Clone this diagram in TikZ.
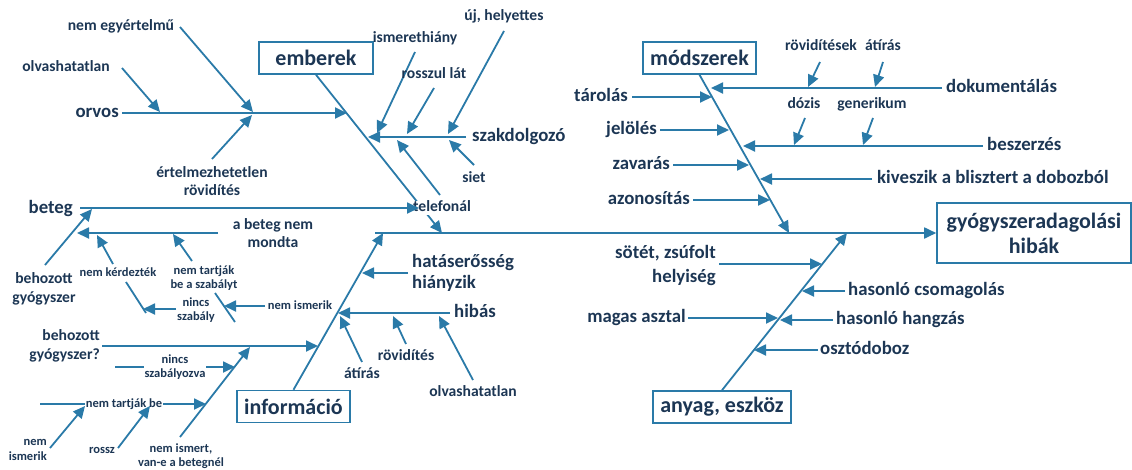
\documentclass[tikz,border=0pt]{standalone}
\usepackage{fontspec}
\setmainfont{Carlito}
\usetikzlibrary{arrows.meta}
\definecolor{bone}{RGB}{42,122,168}
\definecolor{ink}{RGB}{28,54,84}
\tikzset{
  ln/.style={draw=bone, line width=1.8pt},
  arr/.style={ln, -{Triangle[length=12pt,width=11pt]}},
  txt/.style={text=ink, inner sep=0pt},
  hdr/.style={txt, draw=bone, line width=1.6pt, font=\fontsize{22}{25}\selectfont\bfseries, minimum height=32pt},
  cat/.style={txt, font=\fontsize{18.8}{22}\selectfont\bfseries, text height=13pt, text depth=3.8pt},
  lbl/.style={txt, font=\fontsize{15.6}{18.5}\selectfont\bfseries, text height=10.8pt, text depth=3.1pt},
  sml/.style={txt, font=\fontsize{12.5}{14.5}\selectfont\bfseries, text height=8.6pt, text depth=2.5pt},
  multi/.style={text height={}, text depth={}},
  blank/.style={fill=white, inner xsep=1pt},
}
\begin{document}
\begin{tikzpicture}[x=1pt,y=-1pt]
\useasboundingbox (0,0) rectangle (1132,469);

% ---------- effect and spine ----------
\node[hdr, minimum width=194pt, minimum height=60pt, align=center] (eff) at (1034,233) {gyógyszeradagolási\\hibák};
\coordinate (sp0) at (375,233);
\draw[arr] (sp0) -- (eff.west);

% ---------- category boxes ----------
\node[hdr, minimum width=114pt] (emb) at (316,58) {emberek};
\node[hdr, minimum width=113pt] (mod) at (699.5,58) {módszerek};
\node[hdr, minimum width=113pt] (inf) at (293.5,406.5) {információ};
\node[hdr, minimum width=138pt] (any) at (722,407) {anyag, eszköz};

% ---------- main bones ----------
\coordinate (embT) at (442,233);
\coordinate (modT) at (789,233);
\coordinate (infT) at (383,233);
\coordinate (anyT) at (847,233);
\draw[arr] (emb.south) -- (embT);
\draw[arr] (mod.south) -- (modT);
\draw[arr] (inf.north) -- (infT);
\draw[arr] (any.north) -- (anyT);

% ---------- emberek: orvos ----------
\node[cat, anchor=east] (orvos) at (119,113) {orvos};
\coordinate (orvosT) at (347,113);
\draw[arr] ([xshift=3pt]orvos.east) -- (orvosT);
\node[lbl] (olv) at (66,68) {olvashatatlan};
\coordinate (olvA) at (122,68); \coordinate (olvB) at (160,112);
\draw[arr] (olvA) -- (olvB);
\node[lbl] (egy) at (121,27) {nem egyértelmű};
\coordinate (egyA) at (180,27); \coordinate (egyB) at (253,112);
\draw[arr] (egyA) -- (egyB);
\node[lbl, multi, align=center] (ert) at (212,181) {értelmezhetetlen\\rövidítés};
\coordinate (ertA) at (212,159); \coordinate (ertB) at (252,115);
\draw[arr] (ertA) -- (ertB);

% ---------- emberek: szakdolgozó ----------
\node[cat, anchor=west] (szak) at (472,137) {szakdolgozó};
\coordinate (szakA) at (466,137); \coordinate (szakT) at (368,137);
\draw[arr] (szakA) -- (szakT);
\node[lbl] (ism) at (415,39) {ismerethiány};
\coordinate (ismA) at (415,52); \coordinate (ismB) at (377,133);
\draw[arr] (ismA) -- (ismB);
\node[lbl] (rossz) at (434,75) {rosszul lát};
\coordinate (rosszA) at (434,88); \coordinate (rosszB) at (407,134);
\draw[arr] (rosszA) -- (rosszB);
\node[lbl] (uj) at (504,17) {új, helyettes};
\coordinate (ujA) at (504,31); \coordinate (ujB) at (448,134);
\draw[arr] (ujA) -- (ujB);
\node[lbl] (siet) at (474,179) {siet};
\coordinate (sietA) at (474,165); \coordinate (sietB) at (449,140);
\draw[arr] (sietA) -- (sietB);
\coordinate (telA) at (440,195); \coordinate (telB) at (397,140);
\draw[arr] (telA) -- (telB);
\node[lbl, blank] (tel) at (442,208) {telefonál};

% ---------- emberek: beteg ----------
\node[cat, anchor=east] (beteg) at (73,209) {beteg};
\coordinate (betegA) at (80,208); \coordinate (betegT) at (419,208);
\draw[arr] (betegA) -- (betegT);
\node[lbl, multi, align=center] (behoz) at (44,289) {behozott\\gyógyszer};
\coordinate (behozA) at (45,265); \coordinate (behozB) at (92,209);
\draw[arr] (behozA) -- (behozB);
\node[lbl, multi, align=center] (mondta) at (273,233) {a beteg nem\\mondta};
\coordinate (mondA) at (218,233); \coordinate (mondT) at (77,233);
\draw[arr] (mondA) -- (mondT);
\node[sml] (kerd) at (118,273) {nem kérdezték};
\coordinate (kerdA) at (113,264); \coordinate (kerdB) at (97,235);
\draw[arr] (kerdA) -- (kerdB);
\node[sml, multi, align=center] (tartj) at (204,278) {nem tartják\\be a szabályt};
\coordinate (tartjA) at (192,261); \coordinate (tartjB) at (173,234);
\draw[arr] (tartjA) -- (tartjB);
\coordinate (kerdL1) at (126,282); \coordinate (kerdL2) at (146,313);
\draw[ln] (kerdL1) -- (kerdL2);
\node[sml, multi, align=center] (nincs) at (196,310) {nincs\\szabály};
\coordinate (nincsA) at (176,309); \coordinate (nincsT) at (143,309);
\draw[arr] (nincsA) -- (nincsT);
\coordinate (tartjL1) at (215,293); \coordinate (tartjL2) at (235,322);
\draw[ln] (tartjL1) -- (tartjL2);
\node[sml] (nemism) at (300,306) {nem ismerik};
\coordinate (nemismA) at (265,306); \coordinate (nemismT) at (224,306);
\draw[arr] (nemismA) -- (nemismT);

% ---------- információ ----------
\node[cat, multi, align=left, anchor=west, font=\fontsize{18.8}{21}\selectfont\bfseries] (hat) at (412,273) {hatáserősség\\hiányzik};
\coordinate (hatA) at (408,273); \coordinate (hatT) at (362,273);
\draw[arr] (hatA) -- (hatT);
\node[cat, anchor=west] (hibas) at (454,313) {hibás};
\coordinate (hibA) at (450,313); \coordinate (hibT) at (338,313);
\draw[arr] (hibA) -- (hibT);
\node[lbl] (atir) at (362,375) {átírás};
\coordinate (atirA) at (362,362); \coordinate (atirB) at (340,316);
\draw[arr] (atirA) -- (atirB);
\node[lbl] (rov) at (406,357) {rövidítés};
\coordinate (rovA) at (406,344); \coordinate (rovB) at (393,316);
\draw[arr] (rovA) -- (rovB);
\node[lbl] (olv2) at (473,393) {olvashatatlan};
\coordinate (olv2A) at (473,380); \coordinate (olv2B) at (439,316);
\draw[arr] (olv2A) -- (olv2B);

\node[lbl, multi, align=right, anchor=east] (behoz2) at (100,346) {behozott\\gyógyszer?};
\coordinate (behoz2A) at (102,346); \coordinate (behoz2T) at (318,346);
\draw[arr] (behoz2A) -- (behoz2T);
\node[sml, multi, align=center] (nemist) at (181,456) {nem ismert,\\van-e a betegnél};
\coordinate (nemistA) at (180,437); \coordinate (nemistB) at (250,347);
\draw[arr] (nemistA) -- (nemistB);
\coordinate (szabA) at (115,367); \coordinate (szabT) at (235,367);
\draw[arr] (szabA) -- (szabT);
\node[sml, multi, align=center, blank] (szab) at (175,367) {nincs\\szabályozva};
\coordinate (ntbA) at (40,404); \coordinate (ntbT) at (206,404);
\draw[arr] (ntbA) -- (ntbT);
\node[sml, blank] (ntb) at (124,404) {nem tartják be};
\node[sml, multi, align=right, anchor=east] (nemis2) at (47,450) {nem\\ismerik};
\coordinate (nemis2A) at (50,448); \coordinate (nemis2B) at (85,406);
\draw[arr] (nemis2A) -- (nemis2B);
\node[sml] (rosz) at (102,450) {rossz};
\coordinate (roszA) at (118,448); \coordinate (roszB) at (150,406);
\draw[arr] (roszA) -- (roszB);

% ---------- módszerek ----------
\node[cat, anchor=east] (tar) at (628,97) {tárolás};
\coordinate (tarA) at (632,97); \coordinate (tarT) at (712,97);
\draw[arr] (tarA) -- (tarT);
\node[cat, anchor=east] (jel) at (657,130) {jelölés};
\coordinate (jelA) at (660,130); \coordinate (jelT) at (729,130);
\draw[arr] (jelA) -- (jelT);
\node[cat, anchor=east] (zav) at (670,165) {zavarás};
\coordinate (zavA) at (673,165); \coordinate (zavT) at (749,165);
\draw[arr] (zavA) -- (zavT);
\node[cat, anchor=east] (azon) at (690,200) {azonosítás};
\coordinate (azonA) at (693,200); \coordinate (azonT) at (770,200);
\draw[arr] (azonA) -- (azonT);

\node[cat, anchor=west] (dok) at (946,88) {dokumentálás};
\coordinate (dokA) at (942,88); \coordinate (dokT) at (711,88);
\draw[arr] (dokA) -- (dokT);
\node[lbl] (rovs) at (821,47) {rövidítések};
\coordinate (rovsA) at (820,62); \coordinate (rovsB) at (808,87);
\draw[arr] (rovsA) -- (rovsB);
\node[lbl] (atir2) at (883,47) {átírás};
\coordinate (atir2A) at (883,62); \coordinate (atir2B) at (875,87);
\draw[arr] (atir2A) -- (atir2B);

\node[cat, anchor=west] (besz) at (987,146) {beszerzés};
\coordinate (beszA) at (983,146); \coordinate (beszT) at (743,146);
\draw[arr] (beszA) -- (beszT);
\node[lbl] (doz) at (804,105) {dózis};
\coordinate (dozA) at (805,118); \coordinate (dozB) at (794,145);
\draw[arr] (dozA) -- (dozB);
\node[lbl] (gen) at (872,105) {generikum};
\coordinate (genA) at (873,118); \coordinate (genB) at (863,145);
\draw[arr] (genA) -- (genB);

\node[cat, anchor=west] (kiv) at (877,179) {kiveszik a blisztert a dobozból};
\coordinate (kivA) at (872,179); \coordinate (kivT) at (760,179);
\draw[arr] (kivA) -- (kivT);

% ---------- anyag, eszköz ----------
\node[cat, multi, align=right, anchor=east, font=\fontsize{18.8}{24}\selectfont\bfseries] (sot) at (716,265) {sötét, zsúfolt\\helyiség};
\coordinate (sotA) at (719,264); \coordinate (sotT) at (822,264);
\draw[arr] (sotA) -- (sotT);
\node[cat, anchor=west] (csom) at (848,291) {hasonló csomagolás};
\coordinate (csomA) at (845,291); \coordinate (csomT) at (802,291);
\draw[arr] (csomA) -- (csomT);
\node[cat, anchor=east] (mag) at (686,318) {magas asztal};
\coordinate (magA) at (688,318); \coordinate (magT) at (778,318);
\draw[arr] (magA) -- (magT);
\node[cat, anchor=west] (hang) at (836,320) {hasonló hangzás};
\coordinate (hangA) at (833,320); \coordinate (hangT) at (780,320);
\draw[arr] (hangA) -- (hangT);
\node[cat, anchor=west] (oszt) at (820,350) {osztódoboz};
\coordinate (osztA) at (818,350); \coordinate (osztT) at (754,350);
\draw[arr] (osztA) -- (osztT);
\end{tikzpicture}
\end{document}
